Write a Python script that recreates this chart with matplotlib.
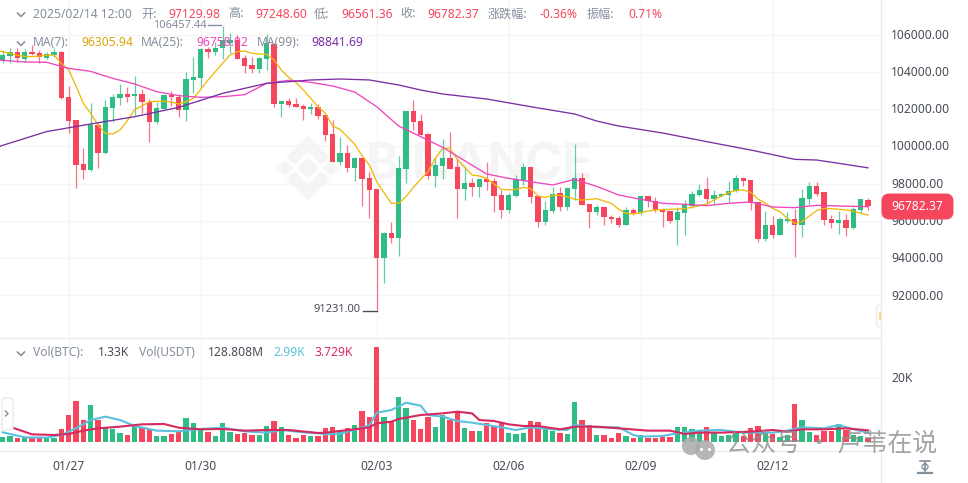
import matplotlib
matplotlib.use("Agg")
from matplotlib import pyplot as plt
from matplotlib.patches import FancyBboxPatch, Polygon
import numpy as np

# BTC/USDT 4小时K线 (数值从截图读取)
opens = [104631, 104864, 105079, 104685, 105061, 104989, 104757, 104900, 105079, 102627,
         101411, 99049, 98727, 101142, 99657, 102055, 102591, 102788, 102681, 102788,
         102395, 101285, 102001, 102752, 102663, 101947, 103540, 103683, 105204, 105079,
         105258, 105526, 105705, 104721, 104363, 104148, 104685, 105472, 102269, 102448,
         102269, 102161, 101982, 102090, 101678, 100658, 99155, 99656, 98833, 99352,
         98278, 97724, 94020, 95326, 95093, 98797, 101893, 101338, 100658, 98404,
         98922, 99352, 98869, 97724, 98046, 97831, 98225, 98117, 97366, 96596,
         97330, 98189, 98869, 97330, 95952, 96543, 97473, 96722, 97706, 98278,
         96900, 96490, 96723, 96222, 96150, 95792, 96597, 96401, 97331, 97080,
         96597, 96508, 96025, 96436, 96812, 97385, 97689, 97170, 97331, 97385,
         97581, 98297, 98172, 97027, 95005, 95792, 95255, 95989, 96114, 95792,
         97170, 97886, 97528, 96096, 95900, 96043, 95595, 96579, 97129.98]
highs = [105168, 105258, 105258, 105204, 105436, 105168, 105079, 105258, 105132, 103236,
         101411, 99890, 102305, 101232, 102484, 102788, 103343, 103164, 103772, 103075,
         102520, 102395, 102788, 102985, 102806, 104005, 104774, 105258, 105347, 105615,
         106457.44, 106063, 105973, 104900, 104810, 104810, 106009, 105526, 102448, 102574,
         102574, 102251, 102304, 102269, 101678, 101410, 100479, 100067, 99441, 99352,
         98600, 97724, 95416, 95934, 99477, 101893, 102483, 101714, 100694, 99406,
         100372, 100748, 99352, 98904, 98296, 98225, 99137, 98278, 97652, 97473,
         98439, 99084, 98869, 97384, 97079, 97831, 97831, 97742, 100103, 98547,
         96900, 96848, 96723, 96293, 96257, 96758, 96705, 97331, 97331, 97295,
         96705, 96544, 96723, 97116, 97617, 97957, 98333, 97653, 97510, 98136,
         98458, 98333, 98172, 97027, 96508, 96257, 96186, 96454, 96615, 97689,
         98100, 98065, 97528, 96311, 96544, 96347, 96758, 97152, 97248.60]
lows = [104452, 104452, 104542, 104506, 104900, 104452, 104685, 104774, 102520, 100731,
        97778, 98243, 98691, 98852, 99586, 101321, 102216, 102395, 101679, 101768,
        100247, 101196, 101947, 102162, 101554, 101375, 102842, 103164, 104721, 104900,
        104667, 104989, 104667, 103916, 103951, 103951, 104094, 102126, 101554, 102126,
        102090, 101410, 101732, 101445, 100282, 99137, 98994, 98636, 98153, 96811,
        96167, 91231, 92642, 94789, 94127, 98046, 100873, 100587, 98225, 97831,
        98260, 98761, 96167, 97115, 97348, 97258, 97652, 96489, 96167, 96435,
        97258, 97920, 96936, 95684, 95791, 96400, 96543, 96579, 97115, 96847,
        95630, 96311, 95792, 95864, 95685, 95756, 96293, 96329, 96758, 96490,
        95685, 95900, 94719, 95255, 96669, 97349, 96902, 96902, 97259, 97027,
        97546, 97868, 96579, 94880, 94933, 95094, 95238, 95900, 94074, 95112,
        96848, 97331, 95792, 95595, 95309, 95202, 95577, 96401, 96561.36]
closes = [104900, 105043, 104721, 105079, 104953, 104774, 104935, 105079, 102574, 101375,
          99013, 98727, 101142, 99657, 102090, 102627, 102806, 102663, 102788, 102395,
          101285, 102037, 102752, 102627, 101947, 103593, 103737, 105204, 105079, 105293,
          105705, 105705, 104685, 104309, 104148, 104757, 105526, 102269, 102448, 102216,
          102126, 101982, 102090, 101642, 100604, 99173, 99656, 98815, 99352, 98225,
          97652, 94020, 95362, 95093, 98851, 101893, 101302, 100587, 98404, 98976,
          99352, 98797, 97724, 98046, 97831, 98225, 98099, 97330, 96596, 97366,
          98225, 98869, 97294, 95952, 96579, 97437, 96722, 97742, 98278, 96865,
          96471, 96723, 96186, 96078, 95792, 96597, 96401, 97331, 97045, 96562,
          96454, 96007, 96472, 96848, 97438, 97671, 97152, 97385, 97438, 97617,
          98297, 98136, 96973, 95005, 95792, 95255, 96114, 96114, 95792, 97224,
          97886, 97438, 96043, 95900, 96025, 95595, 96615, 97152, 96782.37]
volumes = [1770, 2080, 1350, 1456, 1456, 1456, 1350, 1350, 4264, 8528,
           12800, 6970, 11550, 6970, 4890, 4056, 2900, 2400, 5200, 4680,
           4056, 1976, 2080, 2600, 3536, 7488, 6136, 3850, 3224, 1976,
           5928, 3328, 2700, 2808, 2288, 2392, 5096, 6656, 4680, 2184,
           1456, 2288, 1976, 1872, 4368, 4888, 3848, 4472, 5512, 9880,
           7800, 29640, 8008, 6448, 14248, 10712, 6968, 4160, 7800, 4888,
           8528, 6968, 9568, 4368, 3640, 3432, 5928, 5096, 5928, 2912,
           2496, 3016, 6552, 6344, 4056, 3640, 2808, 2600, 12480, 6968,
           5408, 2288, 2184, 1456, 2808, 1872, 1456, 2288, 1456, 1456,
           1768, 1560, 4680, 4680, 4056, 3848, 4680, 3328, 1976, 2288,
           2808, 1976, 4368, 5096, 2808, 2600, 1768, 2288, 11960, 6968,
           3328, 2288, 3640, 3640, 5616, 3848, 2288, 1976, 1456]

# 第一个点在K线左边一根, 线才能画到图的左边缘
ma7_idx = list(range(-1, 119))
ma7 = [105150, 105079, 104989, 104882, 104828, 104810, 104846, 104882, 104900, 104452, 104094,
       103236, 102305, 101768, 101142, 100695, 100659, 100874, 101375, 101983, 102162,
       102395, 102413, 102413, 102377, 102269, 102395, 102574, 103057, 103558, 104005,
       104452, 104900, 105079, 105114, 104989, 104953, 104935, 104631, 104094, 103701,
       103414, 103021, 102574, 102126, 101768, 101088, 100909, 100515, 100103, 99495,
       98994, 98099, 97509, 96936, 96936, 97294, 97795, 98225, 98636, 99352,
       99889, 99889, 99298, 98869, 98457, 98404, 98278, 97974, 97688, 97652,
       97688, 97795, 97724, 97330, 97258, 97366, 97366, 97294, 97151, 97115,
       97151, 97187, 97063, 96937, 96615, 96401, 96365, 96436, 96526, 96579,
       96597, 96615, 96633, 96651, 96723, 96812, 96902, 97116, 97331, 97510,
       97635, 97653, 97528, 97170, 96937, 96669, 96490, 96132, 95864, 95953,
       96257, 96544, 96669, 96651, 96615, 96579, 96508, 96401, 96305.94]
ma25_idx = [-1, 0, 3, 6, 9, 12, 15, 18, 21, 24, 27, 30, 33, 36, 39, 42, 45, 48, 51, 54, 57,
            60, 63, 66, 69, 72, 75, 78, 81, 84, 87, 90, 93, 96, 99, 102, 105, 108, 111, 114, 118]
ma25 = [104640, 104613, 104524, 104506, 104184, 104023, 103647, 103343, 102931, 102717, 102627,
        102663, 102770, 103379, 103540, 103432, 103236, 102913, 102125, 101088, 100515,
        99942, 99227, 98511, 98278, 98099, 97920, 98225, 97850, 97385, 97152,
        96937, 96884, 96812, 96937, 97009, 96741, 96705, 96830, 96794, 96758.02]
ma99_idx = [-1, 0, 6, 12, 18, 24, 30, 36, 42, 46, 50, 54, 57, 60, 66, 72, 78, 81, 84, 90, 96,
            102, 108, 111, 114, 118]
ma99 = [99900, 100051, 100790, 101196, 101589, 102090, 102842, 103379, 103558, 103611, 103560,
        103290, 103020, 102805, 102537, 102125, 101732, 101356, 101087, 100712, 100248,
        99800, 99299, 99263, 99085, 98841.69]

vol_blue_idx = [0, 3, 6, 8, 10, 12, 14, 16, 18, 21, 24, 27, 30, 33, 36, 38, 41, 43, 44, 46,
                48, 50, 51, 53, 55, 57, 58, 60, 62, 64, 66, 68, 70, 72, 75, 77, 78, 81, 84, 86,
                87, 90, 92, 95, 98, 101, 105, 107, 109, 112, 114, 116, 118]
vol_blue = [3120, 1560, 1456, 2288, 4368, 6968, 8008, 6968, 5096, 3640, 3432, 4160, 4576, 3432, 3016, 3848, 3120, 2808, 2496, 2704,
            3848, 5304, 9256, 10088, 12376, 11440, 8528, 8008, 6656, 6136, 5408, 4680, 3848, 4680, 4056, 3848, 5408, 4680, 4680, 2288,
            1768, 1976, 2808, 3640, 3848, 3016, 3016, 3640, 4680, 4368, 5408, 4056, 2990]
vol_red_idx = [0, 2, 4, 7, 9, 11, 13, 16, 19, 22, 24, 27, 30, 33, 36, 39, 43, 44, 48, 50,
               51, 53, 54, 57, 60, 62, 64, 65, 67, 69, 71, 73, 76, 78, 81, 84, 88, 91, 93, 95,
               98, 102, 105, 107, 109, 112, 115, 118]
vol_red = [5720, 4056, 2496, 2288, 2600, 3640, 4368, 4888, 5616, 5720, 4576, 4056, 4160, 3640, 3848, 3848, 2912, 3016, 4056, 4680,
           5928, 6448, 7280, 8528, 9048, 9568, 9048, 6968, 6656, 5616, 5096, 5096, 4056, 4888, 4888, 4368, 3640, 3640, 2600, 3016,
           3016, 3328, 3848, 3328, 4056, 4056, 4368, 3729]

price_ticks = [92000, 94000, 96000, 98000, 100000, 102000, 104000, 106000]
date_idx = [9, 27, 51, 69, 87, 105]
date_labels = ["01/27", "01/30", "02/03", "02/06", "02/09", "02/12"]

RED = "#F6465D"
GREEN = "#2EBD85"
GRAY = "#848E9C"
DARK = "#474D57"
GRID = "#F5F5F5"
LINE = "#EAECEF"
CJK = ["Noto Sans CJK SC", "DejaVu Sans"]
W, H = 968, 483


def px_axes(fig, left, top, right, bottom, z):
    return fig.add_axes([left / W, 1 - bottom / H, (right - left) / W, (bottom - top) / H], zorder=z)


fig = plt.figure(figsize=(W / 100, H / 100), dpi=100, facecolor="white")
plt.rcParams["font.family"] = "Noto Sans"

# 底层水印
bg = px_axes(fig, 0, 0, W, H, 0)
bg.set_xlim(0, W)
bg.set_ylim(H, 0)
bg.axis("off")
wm = "#F5F5F5"
cx, cy = 308, 168
for dx, dy, r in [(0, 0, 10), (-23, 0, 7), (23, 0, 7)]:
    bg.add_patch(Polygon([(cx + dx - r, cy + dy), (cx + dx, cy + dy - r), (cx + dx + r, cy + dy), (cx + dx, cy + dy + r)], color=wm))
bg.add_patch(Polygon([(cx, cy - 32), (cx + 21, cy - 11), (cx + 13, cy - 4), (cx, cy - 17), (cx - 13, cy - 4), (cx - 21, cy - 11)], color=wm))
bg.add_patch(Polygon([(cx, cy + 32), (cx + 21, cy + 11), (cx + 13, cy + 4), (cx, cy + 17), (cx - 13, cy + 4), (cx - 21, cy + 11)], color=wm))
bg.text(366, 166, "BINANCE", fontsize=36, fontweight="bold", color=wm, va="center", ha="left", family="Inter")

# K线
ax = px_axes(fig, 0, 0, 881, 337, 1)
ax.patch.set_alpha(0)
x = np.arange(len(closes))
o, h, l, c = map(np.array, (opens, highs, lows, closes))
colors = [GREEN if c[i] >= o[i] else RED for i in x]
ax.vlines(x, l, h, colors=colors, linewidth=0.9, alpha=0.75, zorder=3)
ax.bar(x, np.maximum(np.abs(c - o), 30), bottom=np.minimum(o, c), width=0.72, color=colors, zorder=4)
ax.plot(ma7_idx, ma7, color="#F0B90B", lw=0.95, zorder=5)
ax.plot(ma25_idx, ma25, color="#EE46BC", lw=0.95, zorder=5)
ax.plot(ma99_idx, ma99, color="#7B2FA5", lw=0.95, zorder=5)
ax.set_xlim(-0.368, 119.77)
ax.set_ylim(89762, 107852)
ax.set_yticks(price_ticks)
ax.set_xticks(date_idx)
ax.set_xticklabels([])
ax.set_yticklabels([])
ax.tick_params(length=0)
ax.grid(color=GRID, lw=1)
ax.set_axisbelow(True)
for s in ax.spines.values():
    s.set_visible(False)

# 成交量
ax2 = px_axes(fig, 0, 338, 881, 450, 1)
ax2.patch.set_alpha(0)
ax2.bar(x, volumes, width=0.72, color=colors, zorder=3)
ax2.plot(vol_blue_idx, vol_blue, color="#5BC0DE", lw=1.5, zorder=4)
ax2.plot(vol_red_idx, vol_red, color="#D6295E", lw=1.5, zorder=5)
ax2.set_xlim(-0.368, 119.77)
ax2.set_ylim(-2406, 32594)
ax2.set_yticks([20000])
ax2.set_xticks(date_idx)
ax2.set_xticklabels([])
ax2.set_yticklabels([])
ax2.tick_params(length=0)
ax2.grid(color=GRID, lw=1)
ax2.set_axisbelow(True)
for s in ax2.spines.values():
    s.set_visible(False)

# 文字层
top = px_axes(fig, 0, 0, W, H, 3)
top.set_xlim(0, W)
top.set_ylim(H, 0)
top.axis("off")
top.patch.set_alpha(0)
top.plot([881, 881], [0, 483], color=LINE, lw=1)
top.plot([0, 881], [337.5, 337.5], color=LINE, lw=1)
top.plot([0, 881], [450.5, 450.5], color=LINE, lw=1)


def label(px, py, s, color=GRAY, size=8.7, **kw):
    kw.setdefault("va", "center")
    kw.setdefault("ha", "left")
    top.text(px, py, s, color=color, fontsize=size, **kw)


def chevron(px, py):
    top.plot([px - 3.5, px, px + 3.5], [py - 2, py + 1.5, py - 2], color=GRAY, lw=1.1)


chevron(21, 15)
chevron(21, 44)
chevron(21, 354)

hy = 14
label(33, hy, "2025/02/14 12:00")
for px, s in [(141, "开:"), (228, "高:"), (314, "低:"), (400, "收:"), (488, "涨跌幅:"), (587, "振幅:")]:
    label(px, hy, s, family=CJK)
for px, s in [(168, "97129.98"), (255, "97248.60"), (341, "96561.36"), (427, "96782.37"), (540, "-0.36%"), (628, "0.71%")]:
    label(px, hy, s, color=RED)

my = 43
for px, s in [(33, "MA(7):"), (141, "MA(25):"), (257, "MA(99):")]:
    label(px, my, s)
for px, val, col in [(81, "96305.94", "#DBA507"), (196, "96758.02", "#EE46BC"), (311, "98841.69", "#7B2FA5")]:
    label(px, my, val, color=col)

vy = 353
label(33, vy, "Vol(BTC):")
label(98, vy, "1.33K", color=DARK)
label(139, vy, "Vol(USDT)")
label(208, vy, "128.808M", color=DARK)
label(273, vy, "2.99K", color="#5BC0DE")
label(314, vy, "3.729K", color="#D6295E")

# 最高最低标注
label(153, 25, "106457.44", color=GRAY, size=8)
top.plot([208, 221], [25, 25], color=GRAY, lw=1)
label(313, 310, "91231.00", color=DARK, size=8)
top.plot([363, 377], [311, 311], color=DARK, lw=1)

# 右侧价格轴
for p in price_ticks:
    py = 296 - (p - 92000) * 0.018629
    label(891, py, "{:.2f}".format(p), color=DARK)
label(891, 378, "20K", color=DARK)
for i, s in zip(date_idx, date_labels):
    label(2.7 + 7.333 * i, 467, s, color=DARK, ha="center")

top.add_patch(FancyBboxPatch((885, 197), 65, 19, boxstyle="round,pad=0,rounding_size=4", mutation_aspect=1, fc=RED, ec=RED, lw=5, zorder=6))
label(917.5, 206.5, "96782.37", color="white", ha="center", fontweight="bold", zorder=7)

# 小图标
top.add_patch(FancyBboxPatch((2, 398), 11, 32, boxstyle="round,pad=0,rounding_size=3", fc="white", ec=LINE, lw=1, zorder=6))
top.plot([5.5, 8, 5.5], [411, 413.5, 416], color=GRAY, lw=1, zorder=7)
handle = FancyBboxPatch((876.5, 305), 12, 22, boxstyle="round,pad=0,rounding_size=3", fc="white", ec=LINE, lw=1, zorder=6, transform=top.transData)
ax.add_patch(handle)
top.plot([880, 880], [313, 319], color="#F0B90B", lw=1.2, alpha=0.6)
top.plot([920, 930], [461, 461], color=GRAY, lw=1.2)
top.plot([918, 932], [472.5, 472.5], color=GRAY, lw=1.6)
top.plot([925, 925], [462, 471], color=GRAY, lw=1.2)
top.plot([922, 925, 928], [466, 463, 466], color=GRAY, lw=1)
top.plot([922, 925, 928], [467.5, 470.5, 467.5], color=GRAY, lw=1)

# 公众号水印
top.scatter([691, 705], [446, 450], s=[170, 207], color="#AAAAAA", alpha=0.85, zorder=8, linewidths=0)
top.scatter([701, 709], [449, 449], s=5, color="white", zorder=9, linewidths=0)
label(726, 444, "公众号 · 卢苇在说", color="#8F8F8F", size=18, family=CJK, alpha=0.8, zorder=8)

plt.savefig("out.png", dpi=100)
